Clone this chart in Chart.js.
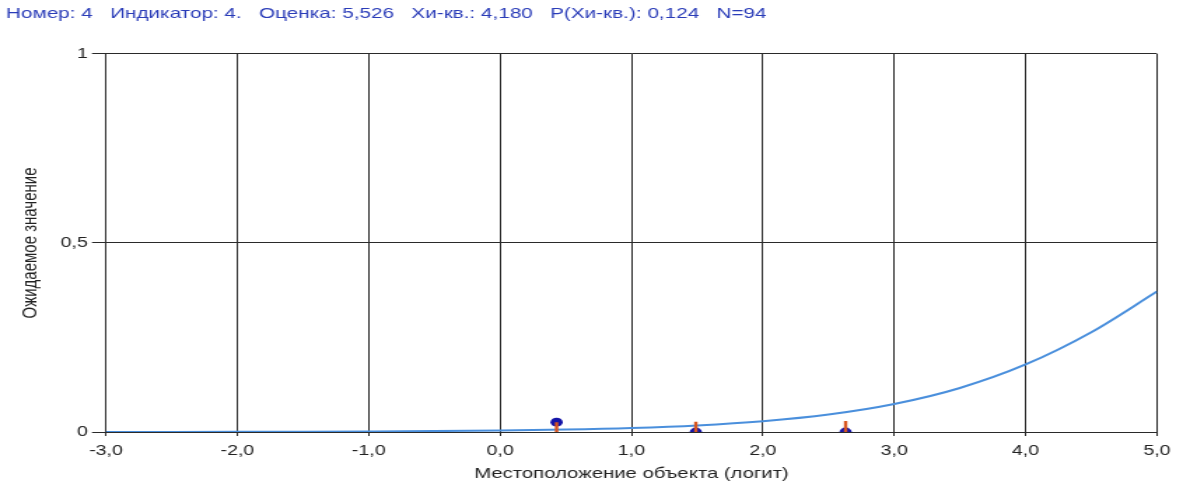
<!DOCTYPE html>
<html>
<head>
<meta charset="utf-8">
<script src="https://cdn.jsdelivr.net/npm/chart.js@4/dist/chart.umd.min.js"></script>
<style>
  html, body { margin: 0; padding: 0; background: #ffffff; }
  #wrap { position: relative; width: 1183px; height: 486px; overflow: hidden; }
  /* the chart is drawn on a narrower canvas and widened on screen */
  #c { width: 1183px !important; height: 486px !important; display: block; }
</style>
</head>
<body>
<div id="wrap"><canvas id="c" width="845" height="486" style="width:1183px;height:486px"></canvas></div>
<script>
// Header line
const headerText = 'Номер: 4   Индикатор: 4.   Оценка: 5,526   Хи-кв.: 4,180   P(Хи-кв.): 0,124   N=94';

// Expected-score curve (logit location -> expected value)
const curveX = [-3.0, -2.5, -2.0, -1.5, -1.0, -0.5, 0.0, 0.5, 1.0, 1.5, 2.0, 2.5, 3.0, 3.5, 4.0, 4.5, 5.0];
const curveY = [0.0002, 0.0003, 0.0005, 0.0009, 0.0015, 0.0024, 0.0040, 0.0065, 0.0107, 0.0175, 0.0286, 0.0463, 0.0741, 0.1165, 0.1786, 0.2639, 0.3715];

// Observed group means
const groupX = [0.43, 1.49, 2.63];
const groupY = [0.026, 0.0, 0.0];

// Red markers at each group location
const markLow = [0.0, 0.0, 0.0];
const markHigh = [0.026, 0.027, 0.029];

// Axis ticks
const xTicks = [-3, -2, -1, 0, 1, 2, 3, 4, 5];
const yTicks = [0, 0.5, 1];

const fmtX = v => v.toFixed(1).replace('.', ',');
const fmtY = v => (v === 0 ? '0' : v === 1 ? '1' : String(v).replace('.', ','));

const curveData = curveX.map((x, i) => ({ x: x, y: curveY[i] }));
const groupData = groupX.map((x, i) => ({ x: x, y: groupY[i] }));
const markData = [];
groupX.forEach((x, i) => {
  markData.push({ x: x, y: markLow[i] });
  markData.push({ x: x, y: markHigh[i] });
  markData.push({ x: x, y: null });
});

const gridColor = '#2a2a2a';
const fontFamily = 'Liberation Sans, Arial, sans-serif';
const tickFont = { family: fontFamily, size: 14 };

new Chart(document.getElementById('c'), {
  type: 'scatter',
  data: {
    datasets: [
      {
        label: 'curve',
        type: 'line',
        data: curveData,
        borderColor: '#4a8fdc',
        borderWidth: 2,
        pointRadius: 0,
        cubicInterpolationMode: 'monotone',
        fill: false,
        order: 3
      },
      {
        label: 'groups',
        data: groupData,
        backgroundColor: '#1414a8',
        borderColor: '#1414a8',
        borderWidth: 0,
        pointStyle: 'circle',
        pointRadius: 4.4,
        order: 2
      },
      {
        label: 'marks',
        type: 'line',
        data: markData,
        borderColor: '#d8551f',
        borderWidth: 2.4,
        pointRadius: 0,
        spanGaps: false,
        order: 1
      }
    ]
  },
  options: {
    responsive: false,
    animation: false,
    devicePixelRatio: 1,
    layout: { padding: { left: 4.3, right: 18.6, top: 0, bottom: 0 } },
    plugins: {
      legend: { display: false },
      tooltip: { enabled: false },
      title: {
        display: true,
        text: headerText,
        align: 'start',
        color: '#2a3cb8',
        font: { family: fontFamily, size: 14.8, weight: 'normal', lineHeight: 1.2 },
        padding: { top: 5.5, bottom: 30.7 }
      }
    },
    scales: {
      x: {
        type: 'linear',
        min: -3,
        max: 5,
        afterBuildTicks: s => { s.ticks = xTicks.map(v => ({ value: v })); },
        afterFit: s => { s.height = 54; },
        grid: { color: gridColor, lineWidth: 1, tickLength: 4, tickColor: gridColor },
        border: { color: gridColor, width: 1 },
        ticks: { color: '#222', font: tickFont, padding: 6.5, maxRotation: 0, callback: v => fmtX(v) },
        title: {
          display: true,
          text: 'Местоположение объекта (логит)',
          color: '#222',
          font: { family: fontFamily, size: 14.5, lineHeight: 1.2 },
          padding: { top: 0, bottom: 3.3 }
        }
      },
      y: {
        type: 'linear',
        min: 0,
        max: 1,
        afterBuildTicks: s => { s.ticks = yTicks.map(v => ({ value: v })); },
        afterFit: s => { s.width = 71.4; },
        grid: { color: gridColor, lineWidth: 1, tickLength: 10, tickColor: gridColor },
        border: { color: gridColor, width: 1 },
        ticks: { color: '#222', font: tickFont, padding: 3, callback: v => fmtY(v) },
        title: {
          display: true,
          text: 'Ожидаемое значение',
          color: '#222',
          font: { family: fontFamily, size: 15, lineHeight: 1.2 },
          padding: { top: 8.1, bottom: 0 }
        }
      }
    }
  }
});
</script>
</body>
</html>
